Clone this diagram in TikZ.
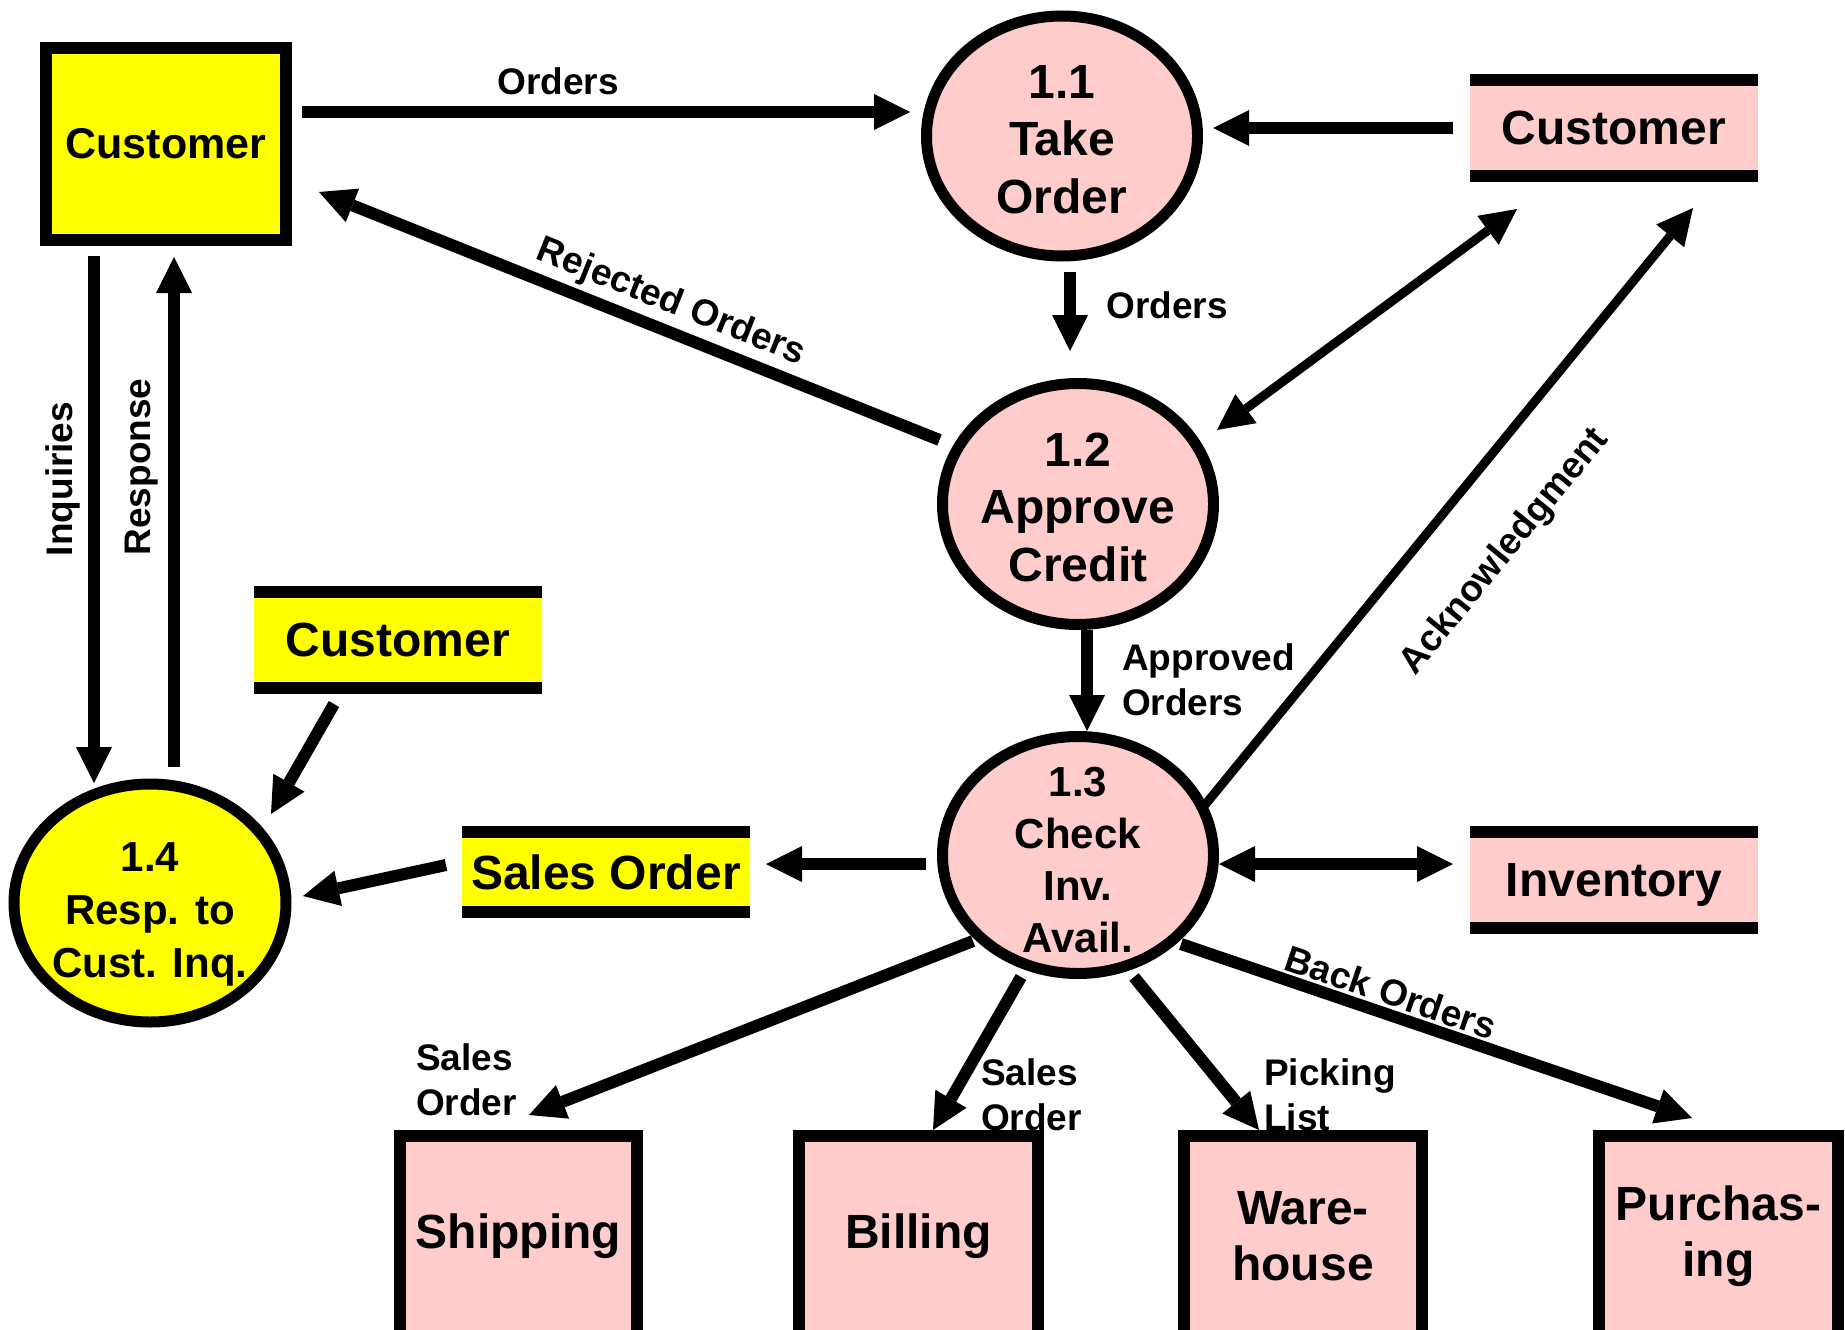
\documentclass[tikz,border=0pt]{standalone}
\usepackage{fontspec}
\setmainfont{Liberation Sans}
\usetikzlibrary{shapes.geometric,arrows.meta,calc}
\definecolor{procpink}{HTML}{FFCCCC}
\definecolor{entyellow}{HTML}{FFFF00}
% invisible strut that raises the top of a first text line
\newcommand\firstlinelift[1]{\rule{0pt}{#1}}

\begin{document}
\begin{tikzpicture}[x=1pt,y=-1pt,
  arr/.style={line width=12pt,-{Triangle[length=36pt,width=36pt,line width=0pt]}},
  darr/.style={line width=12pt,{Triangle[length=36pt,width=36pt,line width=0pt]}-{Triangle[length=36pt,width=36pt,line width=0pt]}},
  proc/.style={ellipse,draw,line width=11pt,outer sep=5.5pt,inner sep=-18pt,
    minimum width=271pt,minimum height=240pt,align=center,
    font=\fontsize{48}{57.5}\selectfont\bfseries},
  ext/.style={rectangle,draw,line width=12pt,outer sep=6pt,inner sep=0pt,align=center,
    font=\fontsize{48}{56}\selectfont\bfseries},
  store/.style={rectangle,inner sep=0pt,outer sep=0pt,minimum width=288pt,minimum height=108pt,
    text depth=0pt,font=\fontsize{48}{56}\selectfont\bfseries,
    path picture={
      \fill[black] (path picture bounding box.north west) rectangle ([yshift=-12pt]path picture bounding box.north east);
      \fill[black] (path picture bounding box.south west) rectangle ([yshift=12pt]path picture bounding box.south east);}},
  lbl/.style={inner sep=0pt,font=\fontsize{37}{45}\selectfont\bfseries}]

% canvas
\fill[white] (0,0) rectangle (1845,1330);
\useasboundingbox (0,0) rectangle (1845,1330);

% external entity and data stores
\node[ext,fill=entyellow,minimum width=240pt,minimum height=192pt,font=\fontsize{43}{50}\selectfont\bfseries] (ent) at (166,144) {Customer};
\node[store,fill=procpink] (cR) at (1614,128) {Customer};
\node[store,fill=procpink] (inv) at (1614,880) {Inventory};
\node[store,fill=entyellow] (cM) at (398,640) {Customer};
\node[store,fill=entyellow,minimum height=92pt] (so) at (606,872) {Sales Order};

% processes
\node[proc,fill=procpink] (p11) at (1062,136) {\firstlinelift{40pt}1.1\\Take\\Order};
\node[proc,fill=procpink,minimum height=241pt] (p12) at (1078,504) {\firstlinelift{40pt}1.2\\Approve\\Credit};
\node[proc,fill=procpink,minimum height=237pt,font=\fontsize{42}{52}\selectfont\bfseries] (p13) at (1078,855) {\firstlinelift{40pt}1.3\\Check\\Inv.\\Avail.};
\node[proc,fill=entyellow,minimum width=272pt,minimum height=238pt,font=\fontsize{42}{53}\selectfont\bfseries] (p14) at (150,903) {\firstlinelift{51pt}1.4\\Resp. to\\Cust. Inq.};

% departments along the bottom
\node[ext,fill=procpink,minimum width=237pt,minimum height=200pt] (ship) at (518.5,1236) {Shipping};
\node[ext,fill=procpink,minimum width=239pt,minimum height=200pt] (bill) at (918.5,1236) {Billing};
\node[ext,fill=procpink,minimum width=238pt,minimum height=200pt] (ware) at (1303,1236) {Ware-\\house};
\node[ext,fill=procpink,minimum width=239pt,minimum height=200pt] (purch) at (1718.5,1236) {Purchas-\\ing};

% data flows
\draw[arr] ($(ent.east)+(10,-32)$) -- ($(p11.west)+(-11,-24)$);
\draw[arr] ($(cR.west)+(-17,0)$) -- ($(p11.east)+(10,-8)$);
\draw[arr] ($(p11.south)+(8,10)$) -- ($(p12.north)+(-8,-27)$);
\draw[arr] ($(p12.west)+(2.5,-64)$) -- ($(ent.east)+(27,48)$);
\draw[darr,line width=9pt] ($(p12.east)+(-2,-74)$) -- ($(cR.south)+(-97,27)$);
\draw[arr,line width=9pt] ($(p13.east)+(-19,-44)$) -- ($(cR.south)+(79,26)$);
\draw[arr] ($(p12.south)+(9,0)$) -- ($(p13.north)+(9,0)$);
\draw[darr] ($(p13.east)+(0,9)$) -- ($(inv.west)+(-17,-16)$);
\draw[arr] ($(p13.west)+(-11.5,9)$) -- ($(so.east)+(16,-8)$);
\draw[arr] ($(so.west)+(-16,-7)$) -- ($(p14.east)+(11.5,-7)$);
\draw[arr] ($(cM.south)+(-64,10)$) -- ($(p14.east)+(-20.5,-89)$);
\draw[arr] ($(ent.south)+(-72,10)$) -- ($(p14.north)+(-56,4.5)$);
\draw[arr] ($(p14.north)+(24,-11.5)$) -- ($(ent.south)+(8,11)$);
\draw[arr] ($(p13.south)+(-105,-38)$) -- ($(ship.north)+(10.5,-15)$);
\draw[arr] ($(p13.south)+(-57,-2)$) -- ($(bill.north)+(14.5,0)$);
\draw[arr] ($(p13.south)+(56,-2)$) -- ($(ware.north)+(-44,0)$);
\draw[arr] ($(p13.south)+(103,-35)$) -- ($(purch.north)+(-26.5,-12)$);

% flow labels
\node[lbl] (lOrders1) at (558,81) {Orders};
\node[lbl] (lOrders2) at (1167,305) {Orders};
\node[lbl,rotate=-21.8] (lRej) at (671,303) {Rejected Orders};
\node[lbl,align=left,anchor=west] (lAppr) at (1122,680) {Approved\\Orders};
\node[lbl,rotate=50.7] (lAck) at (1505,552) {Acknowledgment};
\node[lbl,rotate=90] (lInq) at (63,479) {Inquiries};
\node[lbl,rotate=90] (lResp) at (142,467) {Response};
\node[lbl,align=left,anchor=west] (lSO1) at (416,1080) {Sales\\Order};
\node[lbl,align=left,anchor=west] (lSO2) at (981,1095) {Sales\\Order};
\node[lbl,align=left,anchor=west] (lPick) at (1264,1095) {Picking\\List};
\node[lbl,rotate=-18.8] (lBack) at (1391,992) {Back Orders};
\end{tikzpicture}
\end{document}
